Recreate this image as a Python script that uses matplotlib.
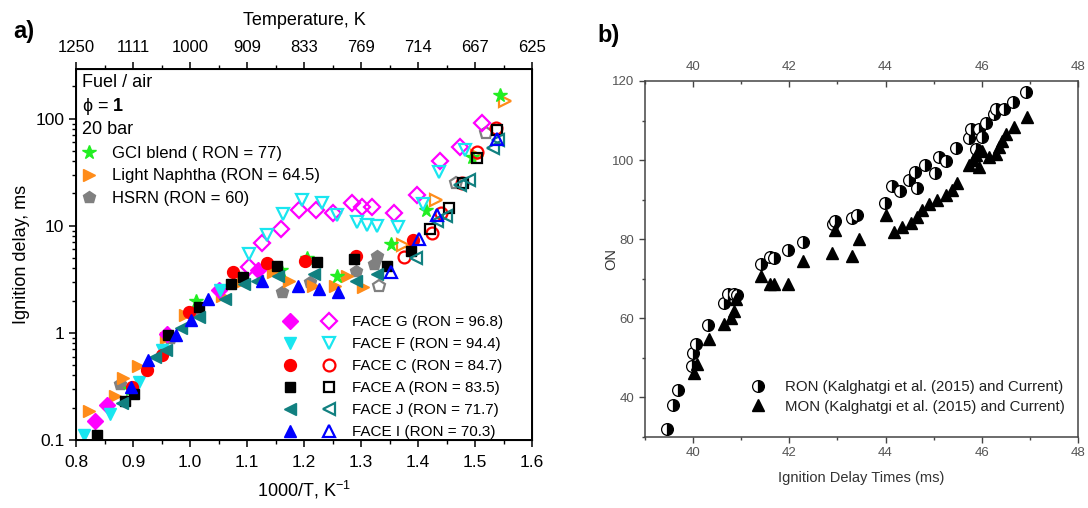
import matplotlib
matplotlib.use("Agg")
import matplotlib.pyplot as plt
from matplotlib.lines import Line2D
from matplotlib.legend_handler import HandlerTuple
from matplotlib.ticker import LogLocator, NullFormatter, FixedLocator, MultipleLocator, FixedFormatter

plt.rcParams['font.family'] = ['Liberation Sans', 'DejaVu Sans']
plt.rcParams['mathtext.fontset'] = 'custom'
plt.rcParams['mathtext.rm'] = 'Liberation Sans'
plt.rcParams['mathtext.it'] = 'Liberation Sans:italic'
plt.rcParams['mathtext.bf'] = 'Liberation Sans:bold'

# ---------------- panel a: ignition delay vs 1000/T ----------------
g_fill_x = [0.833, 0.855, 0.96, 1.05, 1.12]
g_fill_y = [0.15, 0.21, 0.98, 2.5, 3.9]
g_open_x = [1.104, 1.127, 1.159, 1.191, 1.221, 1.251, 1.285, 1.302, 1.320, 1.357, 1.398, 1.439, 1.473, 1.512]
g_open_y = [4.1, 6.9, 9.4, 14.1, 14.1, 13.1, 16.2, 15.1, 15.1, 13.1, 19.5, 40.6, 54, 91]

f_fill_x = [0.814, 0.859, 0.911, 0.951, 1.053]
f_fill_y = [0.11, 0.174, 0.35, 0.69, 2.5]
f_open_x = [1.104, 1.135, 1.163, 1.197, 1.231, 1.257, 1.293, 1.311, 1.328, 1.365, 1.408, 1.436, 1.483]
f_open_y = [5.5, 8.2, 12.8, 17.4, 16.2, 12.5, 10.9, 10.2, 9.9, 9.7, 15.8, 32, 51]

c_fill_x = [0.899, 0.924, 0.95, 0.998, 1.076, 1.135, 1.202, 1.291, 1.392]
c_fill_y = [0.31, 0.45, 0.62, 1.56, 3.66, 4.5, 4.7, 5.2, 7.3]
c_open_x = [1.376, 1.424, 1.441, 1.478, 1.504, 1.536]
c_open_y = [5.1, 8.5, 13.1, 25, 49, 81]

a_fill_x = [0.836, 0.886, 0.902, 0.961, 1.016, 1.071, 1.093, 1.152, 1.223, 1.288, 1.345, 1.387]
a_fill_y = [0.112, 0.23, 0.266, 0.95, 1.74, 2.85, 3.3, 4.2, 4.6, 4.85, 4.2, 5.8]
a_open_x = [1.421, 1.455, 1.479, 1.504, 1.538]
a_open_y = [9.4, 14.5, 25, 43, 78]

j_fill_x = [0.88, 0.939, 0.957, 0.985, 1.016, 1.062, 1.095, 1.118, 1.155, 1.217, 1.291, 1.328]
j_fill_y = [0.223, 0.6, 0.69, 1.1, 1.4, 2.07, 2.85, 3.06, 3.4, 3.53, 3.06, 3.53]
j_open_x = [1.396, 1.433, 1.449, 1.473, 1.49, 1.532, 1.541]
j_open_y = [5.0, 11.1, 12.4, 24, 27, 53, 63]

i_fill_x = [0.896, 0.927, 0.976, 1.001, 1.032, 1.127, 1.189, 1.226, 1.26]
i_fill_y = [0.31, 0.56, 0.95, 1.31, 2.07, 3.06, 2.75, 2.57, 2.39]
i_open_x = [1.352, 1.402, 1.433, 1.538]
i_open_y = [3.66, 7.5, 12.5, 65]

gci_x = [0.895, 1.01, 1.159, 1.205, 1.257, 1.353, 1.414, 1.495, 1.544]
gci_y = [0.30, 2.0, 3.9, 5.0, 3.4, 6.7, 14, 44, 167]

ln_fill_x = [0.822, 0.868, 0.883, 0.908, 0.957, 0.991, 1.056, 1.093, 1.146, 1.174, 1.216, 1.254, 1.276, 1.303]
ln_fill_y = [0.187, 0.257, 0.379, 0.486, 0.887, 1.46, 2.23, 3.06, 3.66, 3.06, 2.75, 2.75, 3.4, 2.66]
ln_open_x = [1.374, 1.431, 1.504, 1.552]
ln_open_y = [6.6, 17.3, 45, 145]

hsrn_fill_x = [0.877, 0.964, 1.01, 1.161, 1.211, 1.291, 1.322, 1.328]
hsrn_fill_y = [0.33, 0.89, 1.62, 2.39, 3.0, 3.8, 4.4, 5.2]
hsrn_open_x = [1.331, 1.467, 1.52]
hsrn_open_y = [2.75, 25, 73]

invT_ticks = [0.8, 0.9, 1.0, 1.1, 1.2, 1.3, 1.4, 1.5, 1.6]
temp_labels = ['1250', '1111', '1000', '909', '833', '769', '714', '667', '625']

face_labels = ['FACE G (RON = 96.8)', 'FACE F (RON = 94.4)', 'FACE C (RON = 84.7)',
               'FACE A (RON = 83.5)', 'FACE J (RON = 71.7)', 'FACE I (RON = 70.3)']
blend_labels = ['GCI blend ( RON = 77)', 'Light Naphtha (RON = 64.5)', 'HSRN (RON = 60)']

# ---------------- panel b: octane number vs ignition delay ----------------
ron_x = [39.46, 39.58, 39.69, 39.97, 40.0, 40.06, 40.32, 40.65, 40.72, 40.86, 40.92,
         41.41, 41.60, 41.69, 41.97, 42.29, 42.91, 42.96, 43.30, 43.41, 43.99, 44.13,
         44.31, 44.48, 44.61, 44.66, 44.83, 45.02, 45.11, 45.25, 45.46, 45.74, 45.77,
         45.87, 45.94, 46.01, 46.08, 46.26, 46.29, 46.47, 46.64, 46.92]
ron_y = [32.1, 38.1, 42.0, 47.9, 51.3, 53.4, 58.2, 63.8, 66.1, 66.1, 66.0,
         73.8, 75.6, 75.2, 77.2, 79.2, 83.8, 84.7, 85.3, 86.1, 89.2, 93.4,
         92.1, 94.9, 97.0, 93.0, 98.7, 96.7, 100.8, 99.7, 103.1, 105.6, 107.9,
         102.8, 107.9, 105.8, 109.3, 111.6, 112.9, 112.9, 114.6, 117.1]
mon_x = [40.02, 40.09, 40.33, 40.65, 40.79, 40.86, 40.89, 41.41, 41.59, 41.69, 41.97,
         42.29, 42.88, 43.30, 42.95, 43.44, 44.01, 44.17, 44.34, 44.52, 44.66, 44.76,
         44.90, 45.07, 45.25, 45.39, 45.49, 45.74, 45.81, 45.87, 45.94, 46.01, 46.15,
         46.29, 46.36, 46.43, 46.50, 46.68, 46.95]
mon_y = [46.2, 48.4, 54.7, 58.5, 60.2, 61.9, 64.8, 70.7, 68.6, 68.6, 68.6,
         74.5, 76.6, 75.8, 82.3, 80.0, 86.0, 81.8, 83.2, 84.2, 85.7, 87.4,
         88.9, 89.9, 91.1, 92.4, 94.3, 98.7, 99.9, 101.2, 98.2, 102.4, 100.8,
         101.6, 103.3, 104.9, 106.6, 108.3, 110.8]
b_labels = ['RON (Kalghatgi et al. (2015) and Current)', 'MON (Kalghatgi et al. (2015) and Current)']

fig = plt.figure(figsize=(10.88, 5.08), dpi=100)

# ---------- panel a ----------
ax = fig.add_axes([0.0699, 0.134, 0.4191, 0.730])
ms = 9
mew = 1.6

styles = [
    # (fill_x, fill_y, open_x, open_y, marker, colour, size)
    (g_fill_x, g_fill_y, g_open_x, g_open_y, 'D', '#ff00ff', ms * 0.85),
    (f_fill_x, f_fill_y, f_open_x, f_open_y, 'v', '#19e6f0', ms),
    (c_fill_x, c_fill_y, c_open_x, c_open_y, 'o', '#ff0000', ms * 0.95),
    (a_fill_x, a_fill_y, a_open_x, a_open_y, 's', '#000000', ms * 0.85),
    (j_fill_x, j_fill_y, j_open_x, j_open_y, '<', '#118080', ms),
    (i_fill_x, i_fill_y, i_open_x, i_open_y, '^', '#0000ff', ms),
]

# blends drawn first so the FACE fuels sit on top
ax.plot(hsrn_fill_x, hsrn_fill_y, ls='none', marker='p', ms=ms, color='#808080', mec='#808080')
ax.plot(hsrn_open_x, hsrn_open_y, ls='none', marker='p', ms=ms, mfc='white', mec='#808080', mew=mew)
ax.plot(ln_fill_x, ln_fill_y, ls='none', marker='>', ms=ms, color='#ff8c1a', mec='#ff8c1a')
ax.plot(ln_open_x, ln_open_y, ls='none', marker='>', ms=ms, mfc='none', mec='#ff8c1a', mew=mew)
ax.plot(gci_x, gci_y, ls='none', marker='*', ms=ms * 1.1, color='#22ee22', mec='#22ee22')

face_handles = []
for fx, fy, ox, oy, mk, col, size in styles:
    ax.plot(fx, fy, ls='none', marker=mk, ms=size, color=col, mec=col)
    ax.plot(ox, oy, ls='none', marker=mk, ms=size, mfc='none', mec=col, mew=mew)
    h_fill = Line2D([], [], ls='none', marker=mk, ms=size, color=col, mec=col)
    h_open = Line2D([], [], ls='none', marker=mk, ms=size, mfc='white', mec=col, mew=mew)
    face_handles.append((h_fill, h_open))

ax.set_yscale('log')
ax.set_xlim(0.8, 1.6)
ax.set_ylim(0.1, 290)
ax.set_xticks(invT_ticks)
ax.set_xticklabels([f'{v:.1f}' for v in invT_ticks])
ax.xaxis.set_minor_locator(MultipleLocator(0.05))
ax.yaxis.set_major_locator(FixedLocator([0.1, 1, 10, 100]))
ax.yaxis.set_major_formatter(FixedFormatter(['0.1', '1', '10', '100']))
ax.yaxis.set_minor_locator(LogLocator(base=10, subs=range(2, 10)))
ax.yaxis.set_minor_formatter(NullFormatter())
ax.tick_params(axis='both', which='major', direction='out', length=5, width=1.1, labelsize=12.5)
ax.tick_params(axis='both', which='minor', direction='out', length=3, width=1.0)
ax.tick_params(axis='x', pad=6)
for s in ax.spines.values():
    s.set_linewidth(1.4)
ax.set_xlabel('1000/T, K$^{\\mathregular{-1}}$', fontsize=13, labelpad=6)
ax.set_ylabel('Ignition delay, ms', fontsize=13, labelpad=4)

top = ax.twiny()
top.set_xlim(ax.get_xlim())
top.set_xticks(invT_ticks)
top.set_xticklabels(temp_labels)
top.xaxis.set_minor_locator(MultipleLocator(0.05))
top.tick_params(axis='x', which='major', direction='out', length=5, width=1.1, labelsize=12, pad=5)
top.tick_params(axis='x', which='minor', direction='out', length=3, width=1.0)
top.set_xlabel('Temperature, K', fontsize=13, labelpad=11)

ax.text(0.012, 0.963, 'Fuel / air', transform=ax.transAxes, fontsize=13, va='center')
ax.text(0.012, 0.899, 'ϕ = $\\mathbf{1}$', transform=ax.transAxes, fontsize=13, va='center')
ax.text(0.012, 0.837, '20 bar', transform=ax.transAxes, fontsize=13, va='center')

blend_handles = [
    Line2D([], [], ls='none', marker='*', ms=ms * 1.1, color='#22ee22', mec='#22ee22'),
    Line2D([], [], ls='none', marker='>', ms=ms, color='#ff8c1a', mec='#ff8c1a'),
    Line2D([], [], ls='none', marker='p', ms=ms, color='#808080', mec='#808080'),
]
leg1 = ax.legend(blend_handles, blend_labels, loc='upper left', bbox_to_anchor=(-0.012, 0.82),
                 frameon=False, fontsize=12, handlelength=1.0, handletextpad=0.9,
                 labelspacing=0.45, borderaxespad=0.2)
ax.add_artist(leg1)
ax.legend(face_handles, face_labels, loc='lower right', bbox_to_anchor=(0.955, -0.02),
          handler_map={tuple: HandlerTuple(ndivide=None, pad=1.3)},
          frameon=False, fontsize=11, handlelength=3.8, handletextpad=0.9,
          labelspacing=0.52, borderaxespad=0.15)

fig.text(0.012, 0.925, 'a)', fontsize=17, fontweight='bold')

# ---------- panel b ----------
bx = fig.add_axes([0.5928, 0.1398, 0.3980, 0.7008])
grey = '#555555'
bx.plot(ron_x, ron_y, ls='none', marker='o', ms=8.5, fillstyle='right', mfc='black',
        markerfacecoloralt='white', mec='black', mew=0.9)
bx.plot(mon_x, mon_y, ls='none', marker='^', ms=9, color='black', mec='black')
bx.set_xlim(39, 48)
bx.set_ylim(30, 120)
bx.xaxis.set_major_locator(MultipleLocator(2))
bx.xaxis.set_minor_locator(MultipleLocator(1))
bx.yaxis.set_major_locator(FixedLocator([40, 60, 80, 100, 120]))
bx.yaxis.set_minor_locator(MultipleLocator(10))
bx.tick_params(axis='both', which='major', direction='out', length=4, width=1.0,
               labelsize=9.5, labelcolor=grey, color='#444444')
bx.tick_params(axis='both', which='minor', direction='out', length=2.5, width=1.0, color='#444444')
for s in bx.spines.values():
    s.set_linewidth(1.1)
    s.set_color('#444444')
bx.set_xlabel('Ignition Delay Times (ms)', fontsize=10.5, color='#333333', labelpad=8)
bx.set_ylabel('ON', fontsize=10.5, color='#333333', labelpad=-4)

btop = bx.twiny()
btop.set_xlim(bx.get_xlim())
btop.xaxis.set_major_locator(MultipleLocator(2))
btop.xaxis.set_minor_locator(MultipleLocator(1))
btop.tick_params(axis='x', which='major', direction='in', length=4, width=1.0,
                 labelsize=9.5, labelcolor=grey, color='#444444', pad=6)
btop.tick_params(axis='x', which='minor', direction='in', length=2.5, width=1.0, color='#444444')
for s in btop.spines.values():
    s.set_visible(False)

b_handles = [
    Line2D([], [], ls='none', marker='o', ms=8.5, fillstyle='right', mfc='black',
           markerfacecoloralt='white', mec='black', mew=0.9),
    Line2D([], [], ls='none', marker='^', ms=9, color='black'),
]
bx.legend(b_handles, b_labels, loc='lower right', bbox_to_anchor=(1.0, 0.028),
          frameon=False, fontsize=10.8, handlelength=1.2, handletextpad=1.2,
          labelspacing=0.35, labelcolor='#222222')

fig.text(0.549, 0.918, 'b)', fontsize=17, fontweight='bold')

fig.savefig('out.png', dpi=100)
